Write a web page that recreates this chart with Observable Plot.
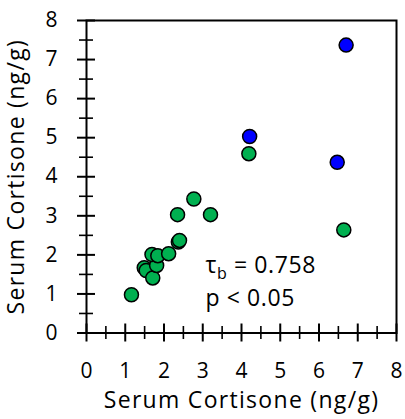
<!DOCTYPE html>
<html>
<head>
<meta charset="utf-8">
<script src="https://cdn.jsdelivr.net/npm/d3@7"></script>
<script src="https://cdn.jsdelivr.net/npm/@observablehq/plot@0.6"></script>
<style>
  html, body { margin: 0; padding: 0; background: #fff; }
  svg text { white-space: pre; }
</style>
</head>
<body>
<div id="chart"></div>
<script>
// Green series (x, y)
const greenX = [1.16, 1.49, 1.54, 1.71, 1.81, 1.69, 1.84, 2.12, 2.37, 2.40, 2.35, 2.77, 3.20, 4.19, 6.64];
const greenY = [0.98, 1.67, 1.60, 1.41, 1.73, 2.01, 1.98, 2.03, 2.33, 2.37, 3.03, 3.43, 3.03, 4.59, 2.64];
// Blue series (x, y)
const blueX = [4.21, 6.47, 6.70];
const blueY = [5.03, 4.37, 7.37];

const majorTicks = [0, 1, 2, 3, 4, 5, 6, 7, 8];
const minorTicks = [0.5, 1.5, 2.5, 3.5, 4.5, 5.5, 6.5, 7.5];
const xTitle = "Serum Cortisone (ng/g)";
const yTitle = "Serum Cortisone (ng/g)";
const annotationLines = ["τb = 0.758", "p < 0.05"];
const annotationX = [3.07, 3.07];
const annotationY = [1.536, 0.704];

const green = greenX.map((x, i) => ({x, y: greenY[i]}));
const blue = blueX.map((x, i) => ({x, y: blueY[i]}));
const notes = annotationLines.map((t, i) => ({t, x: annotationX[i], y: annotationY[i]}));

const font = "'Open Sans', sans-serif";

const svg = Plot.plot({
  width: 405,
  height: 419,
  marginLeft: 86,
  marginRight: 9,
  marginTop: 20,
  marginBottom: 86.5,
  style: {fontFamily: font, fontSize: "21px", color: "black", background: "white"},
  x: {domain: [0, 8]},
  y: {domain: [0, 8]},
  marks: [
    Plot.frame({stroke: "black", strokeWidth: 2}),
    // x axis: major crossing ticks with labels
    Plot.axisX(majorTicks, {anchor: "bottom", tickSize: 18, dy: -9, tickPadding: 21.5, strokeWidth: 2, label: null, fontSize: 21, tickFormat: d => String(d)}),
    Plot.axisX(minorTicks, {anchor: "bottom", tickSize: 13, dy: -6.5, strokeWidth: 1.6, label: null, tickFormat: () => ""}),
    // y axis
    Plot.axisY(majorTicks, {anchor: "left", tickSize: 18, dx: 9, tickPadding: 20, strokeWidth: 2, label: null, fontSize: 21, tickFormat: d => String(d)}),
    Plot.axisY(minorTicks, {anchor: "left", tickSize: 14, dx: 7, strokeWidth: 1.6, label: null, tickFormat: () => ""}),
    // titles
    Plot.text([xTitle], {frameAnchor: "bottom", textAnchor: "middle", lineAnchor: "bottom", dy: 75, fontSize: 23, text: d => d, className: "axis-title"}),
    Plot.text([yTitle], {frameAnchor: "left", textAnchor: "middle", lineAnchor: "middle", rotate: -90, dx: -70, fontSize: 23, text: d => d, className: "axis-title"}),
    // points
    Plot.dot(green, {x: "x", y: "y", r: 7, fill: "#00B050", stroke: "black", strokeWidth: 1.5}),
    Plot.dot(blue, {x: "x", y: "y", r: 7, fill: "#0000FF", stroke: "black", strokeWidth: 1.5}),
    // annotation
    Plot.text(notes, {x: "x", y: "y", text: "t", textAnchor: "start", lineAnchor: "bottom", fontSize: 23, className: "note"})
  ]
});

svg.querySelectorAll("g.axis-title text").forEach(t => t.setAttribute("letter-spacing", "1.3"));
svg.querySelectorAll("g.note text").forEach(t => t.setAttribute("letter-spacing", "0.6"));

// subscript b in tau
svg.querySelectorAll("text").forEach(t => {
  if (t.textContent === "τb = 0.758") {
    t.textContent = "";
    const ns = "http://www.w3.org/2000/svg";
    const a = document.createElementNS(ns, "tspan"); a.textContent = "τ";
    const b = document.createElementNS(ns, "tspan"); b.textContent = "b";
    b.setAttribute("dy", "6"); b.setAttribute("font-size", "16");
    const c = document.createElementNS(ns, "tspan"); c.textContent = " = 0.758";
    c.setAttribute("dy", "-6");
    t.append(a, b, c);
  }
});

document.getElementById("chart").append(svg);
</script>
</body>
</html>
